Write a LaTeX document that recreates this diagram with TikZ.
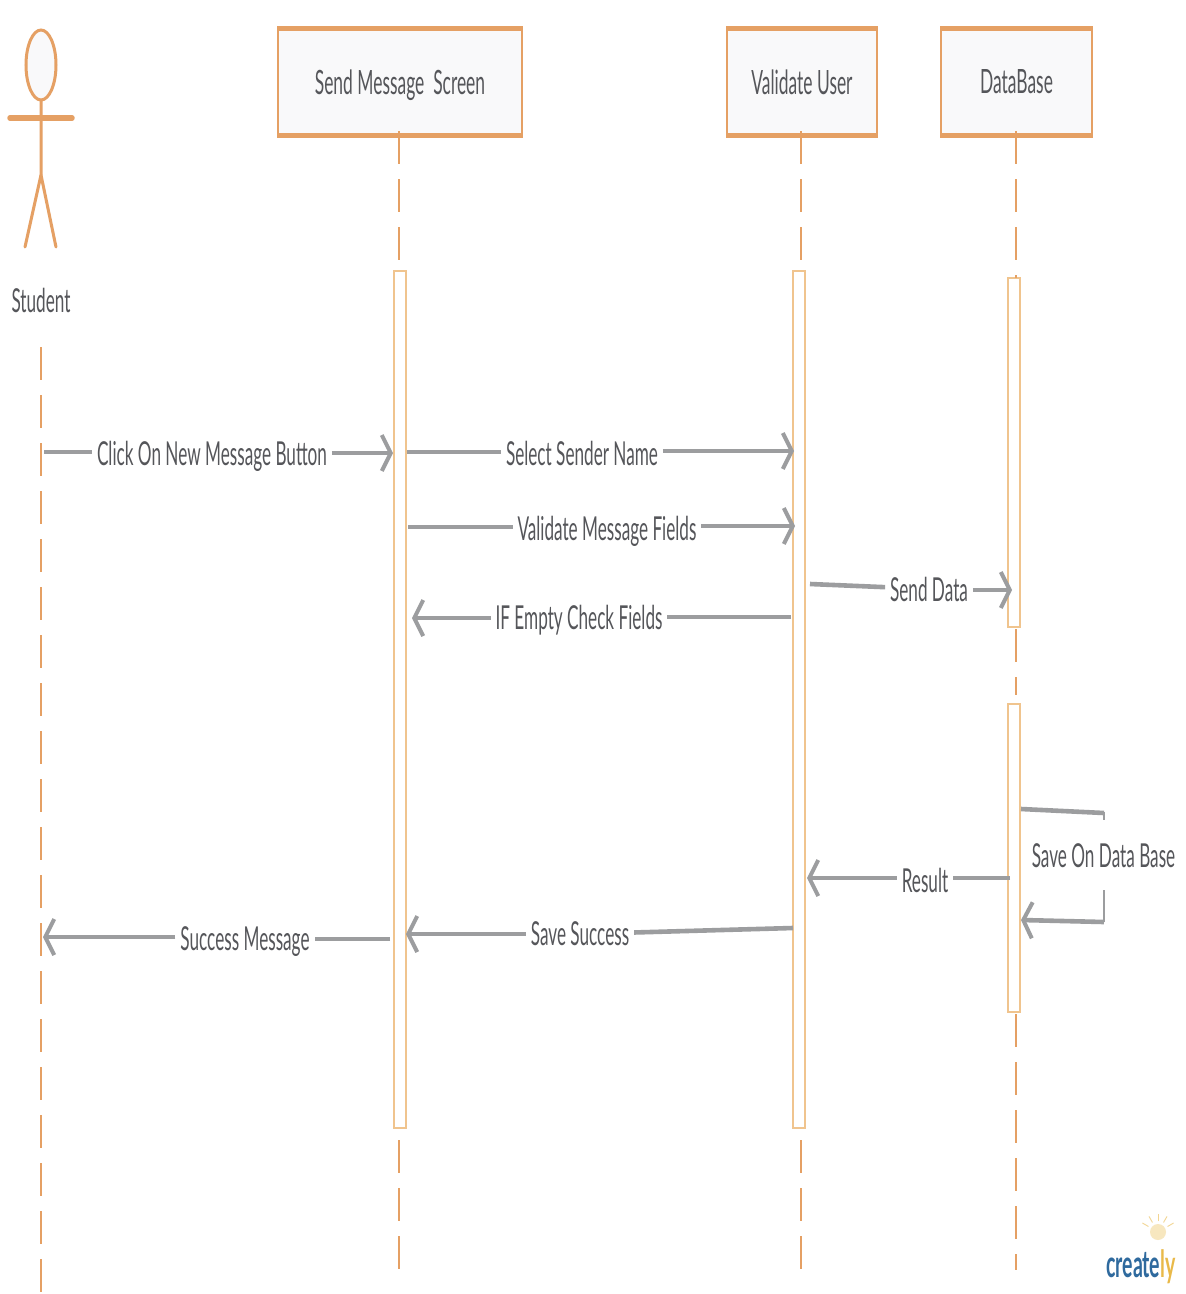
\documentclass[tikz,border=0pt]{standalone}
\usepackage{fontspec}
\setmainfont[FakeStretch=0.52]{Lato}
\usetikzlibrary{arrows.meta}
\definecolor{orangeline}{HTML}{E5A064}
\definecolor{barline}{HTML}{F0C48E}
\definecolor{msggray}{HTML}{9C9D9F}
\definecolor{txtgray}{HTML}{55565A}
\definecolor{boxfill}{HTML}{F9F9FA}
\definecolor{logoblue}{HTML}{2F6A9E}
\definecolor{logoyellow}{HTML}{E9B949}
\tikzset{
  x=1pt,y=-1pt,
  headbox/.style={draw=orangeline,line width=2pt,fill=boxfill,minimum height=105pt,anchor=center,inner sep=0pt,text=txtgray,font=\fontsize{33.5}{33.5}\selectfont},
  lifeline/.style={draw=orangeline,line width=2.4pt,dash pattern=on 33pt off 15pt},
  actorline/.style={draw=orangeline,line width=3pt,line cap=round},
  bar/.style={draw=barline,line width=1.6pt,fill=white,minimum width=12pt,inner sep=0pt},
  lab/.style={text=txtgray,font=\fontsize{33}{33}\selectfont,fill=white,inner sep=0pt,outer sep=5pt},
  msg/.style={draw=msggray,line width=4.6pt},
  msga/.style={msg,-{Straight Barb[length=9pt,width=36pt,line width=4pt]}},
}
\begin{document}
\begin{tikzpicture}
\useasboundingbox (0,0) rectangle (1186,1294);
\fill[white] (0,0) rectangle (1186,1294);

% head boxes
\node[headbox,minimum width=244pt,text depth=0pt] (hsend) at (400,82) {\raisebox{-1pt}{Send Message\ \ Screen}};
\node[headbox,minimum width=150pt] (hval) at (802,82) {Validate User};
\node[headbox,minimum width=151pt] (hdb) at (1016.5,82) {DataBase};
\draw[orangeline,line width=5pt] (hsend.north west)--(hsend.north east) (hsend.south west)--(hsend.south east);
\draw[orangeline,line width=5pt] (hval.north west)--(hval.north east) (hval.south west)--(hval.south east);
\draw[orangeline,line width=5pt] (hdb.north west)--(hdb.north east) (hdb.south west)--(hdb.south east);

% lifeline free ends
\coordinate (stutop) at (41,347);
\coordinate (stuend) at (41,1294);
\coordinate (sendend) at (399,1270);
\coordinate (valend) at (801,1270);
\coordinate (dbend) at (1016,1270);

% activation bars
\node[bar,minimum height=857pt] (bsend) at (400,699.5) {};
\node[bar,minimum height=857pt] (bval) at (799,699.5) {};
\node[bar,minimum height=349pt] (bdb1) at (1014,452.5) {};
\node[bar,minimum height=308pt] (bdb2) at (1014,858) {};

% lifelines
\draw[lifeline] (stutop)--(stuend);
\draw[lifeline] (399,131)--(399,263);
\draw[lifeline] (801,131)--(801,263);
\draw[lifeline] (1016,131)--(1016,278);
\draw[lifeline] (1016,629)--(1016,695);
\draw[lifeline] (399,1140)--(sendend);
\draw[lifeline] (801,1140)--(valend);
\draw[lifeline] (1016,1014)--(dbend);

% actor
\draw[actorline,fill=boxfill] (41,65) ellipse [x radius=15,y radius=35];
\draw[actorline,line width=5.5pt] (10,118)--(72,118);
\draw[actorline] (41,100)--(41,175)--(25,247);
\draw[actorline] (41,175)--(56,247);
\node[text=txtgray,font=\fontsize{33}{33}\selectfont,inner sep=0pt] (stu) at (41,300) {Student};

% messages
\node[lab] (m1) at (212,456) {Click On New Message Button};
\coordinate (m1a) at (44,452); \coordinate (m1b) at (393,453);
\draw[msg] (m1a)--(m1.west|-m1a); \draw[msga] (m1.east|-m1b)--(m1b);

\node[lab] (m2) at (582,453) {Select Sender Name};
\coordinate (m2a) at (407,452); \coordinate (m2b) at (794,451);
\draw[msg] (m2a)--(m2.west|-m2a); \draw[msga] (m2.east|-m2b)--(m2b);

\node[lab] (m3) at (607,531) {Validate Message Fields};
\coordinate (m3a) at (408,527); \coordinate (m3b) at (795,526);
\draw[msg] (m3a)--(m3.west|-m3a); \draw[msga] (m3.east|-m3b)--(m3b);

\node[lab] (m4) at (929,589) {Send Data};
\coordinate (m4a) at (810,584); \coordinate (m4b) at (1012,590);
\draw[msg] (m4a)--(m4); \draw[msga] (m4.east|-m4b)--(m4b);

\node[lab] (m5) at (579,620) {IF Empty Check Fields};
\coordinate (m5a) at (791,617); \coordinate (m5b) at (412,618);
\draw[msg] (m5a)--(m5.east|-m5a); \draw[msga] (m5.west|-m5b)--(m5b);

\node[lab] (m7) at (925,880) {Result};
\coordinate (m7a) at (1010,878); \coordinate (m7b) at (807,878);
\draw[msg] (m7a)--(m7.east|-m7a); \draw[msga] (m7.west|-m7b)--(m7b);

\node[lab] (m8) at (580,934) {Save Success};
\coordinate (m8a) at (793,928); \coordinate (m8b) at (406,934);
\draw[msg] (m8a)--(m8); \draw[msga] (m8)--(m8b);

\node[lab] (m9) at (245,942) {Success Message};
\coordinate (m9a) at (390,939); \coordinate (m9b) at (43,937);
\draw[msg] (m9a)--(m9.east|-m9a); \draw[msga] (m9.west|-m9b)--(m9b);

% self message
\node[lab,outer sep=0pt] (m6) at (1103.5,856) {Save On Data Base};
\coordinate (m6a) at (1021,809); \coordinate (m6b) at (1104,813);
\coordinate (m6c) at (1104,922); \coordinate (m6d) at (1021,920);
\draw[msg] (m6a)--(m6b);
\draw[msggray,line width=2.6pt] (1104,812)--(1104,820);
\draw[msggray,line width=2.6pt] (1104,890)--(m6c);
\draw[msga] (m6c)--(m6d);

% logo
\node[text=logoblue,inner sep=0pt,anchor=base west,font=\fontsize{37.5}{37.5}\selectfont\bfseries] (logo) at (1106,1277) {create\textcolor{logoyellow}{l}\textcolor{logoyellow}{y}};
\fill[logoyellow!35] (1158,1232) circle (8);
\foreach \a in {-150,-120,-90,-60,-30}
  \draw[logoyellow!60,line width=0.9pt] (1158,1232) ++(\a:11) -- ++(\a:7);
\end{tikzpicture}
\end{document}
